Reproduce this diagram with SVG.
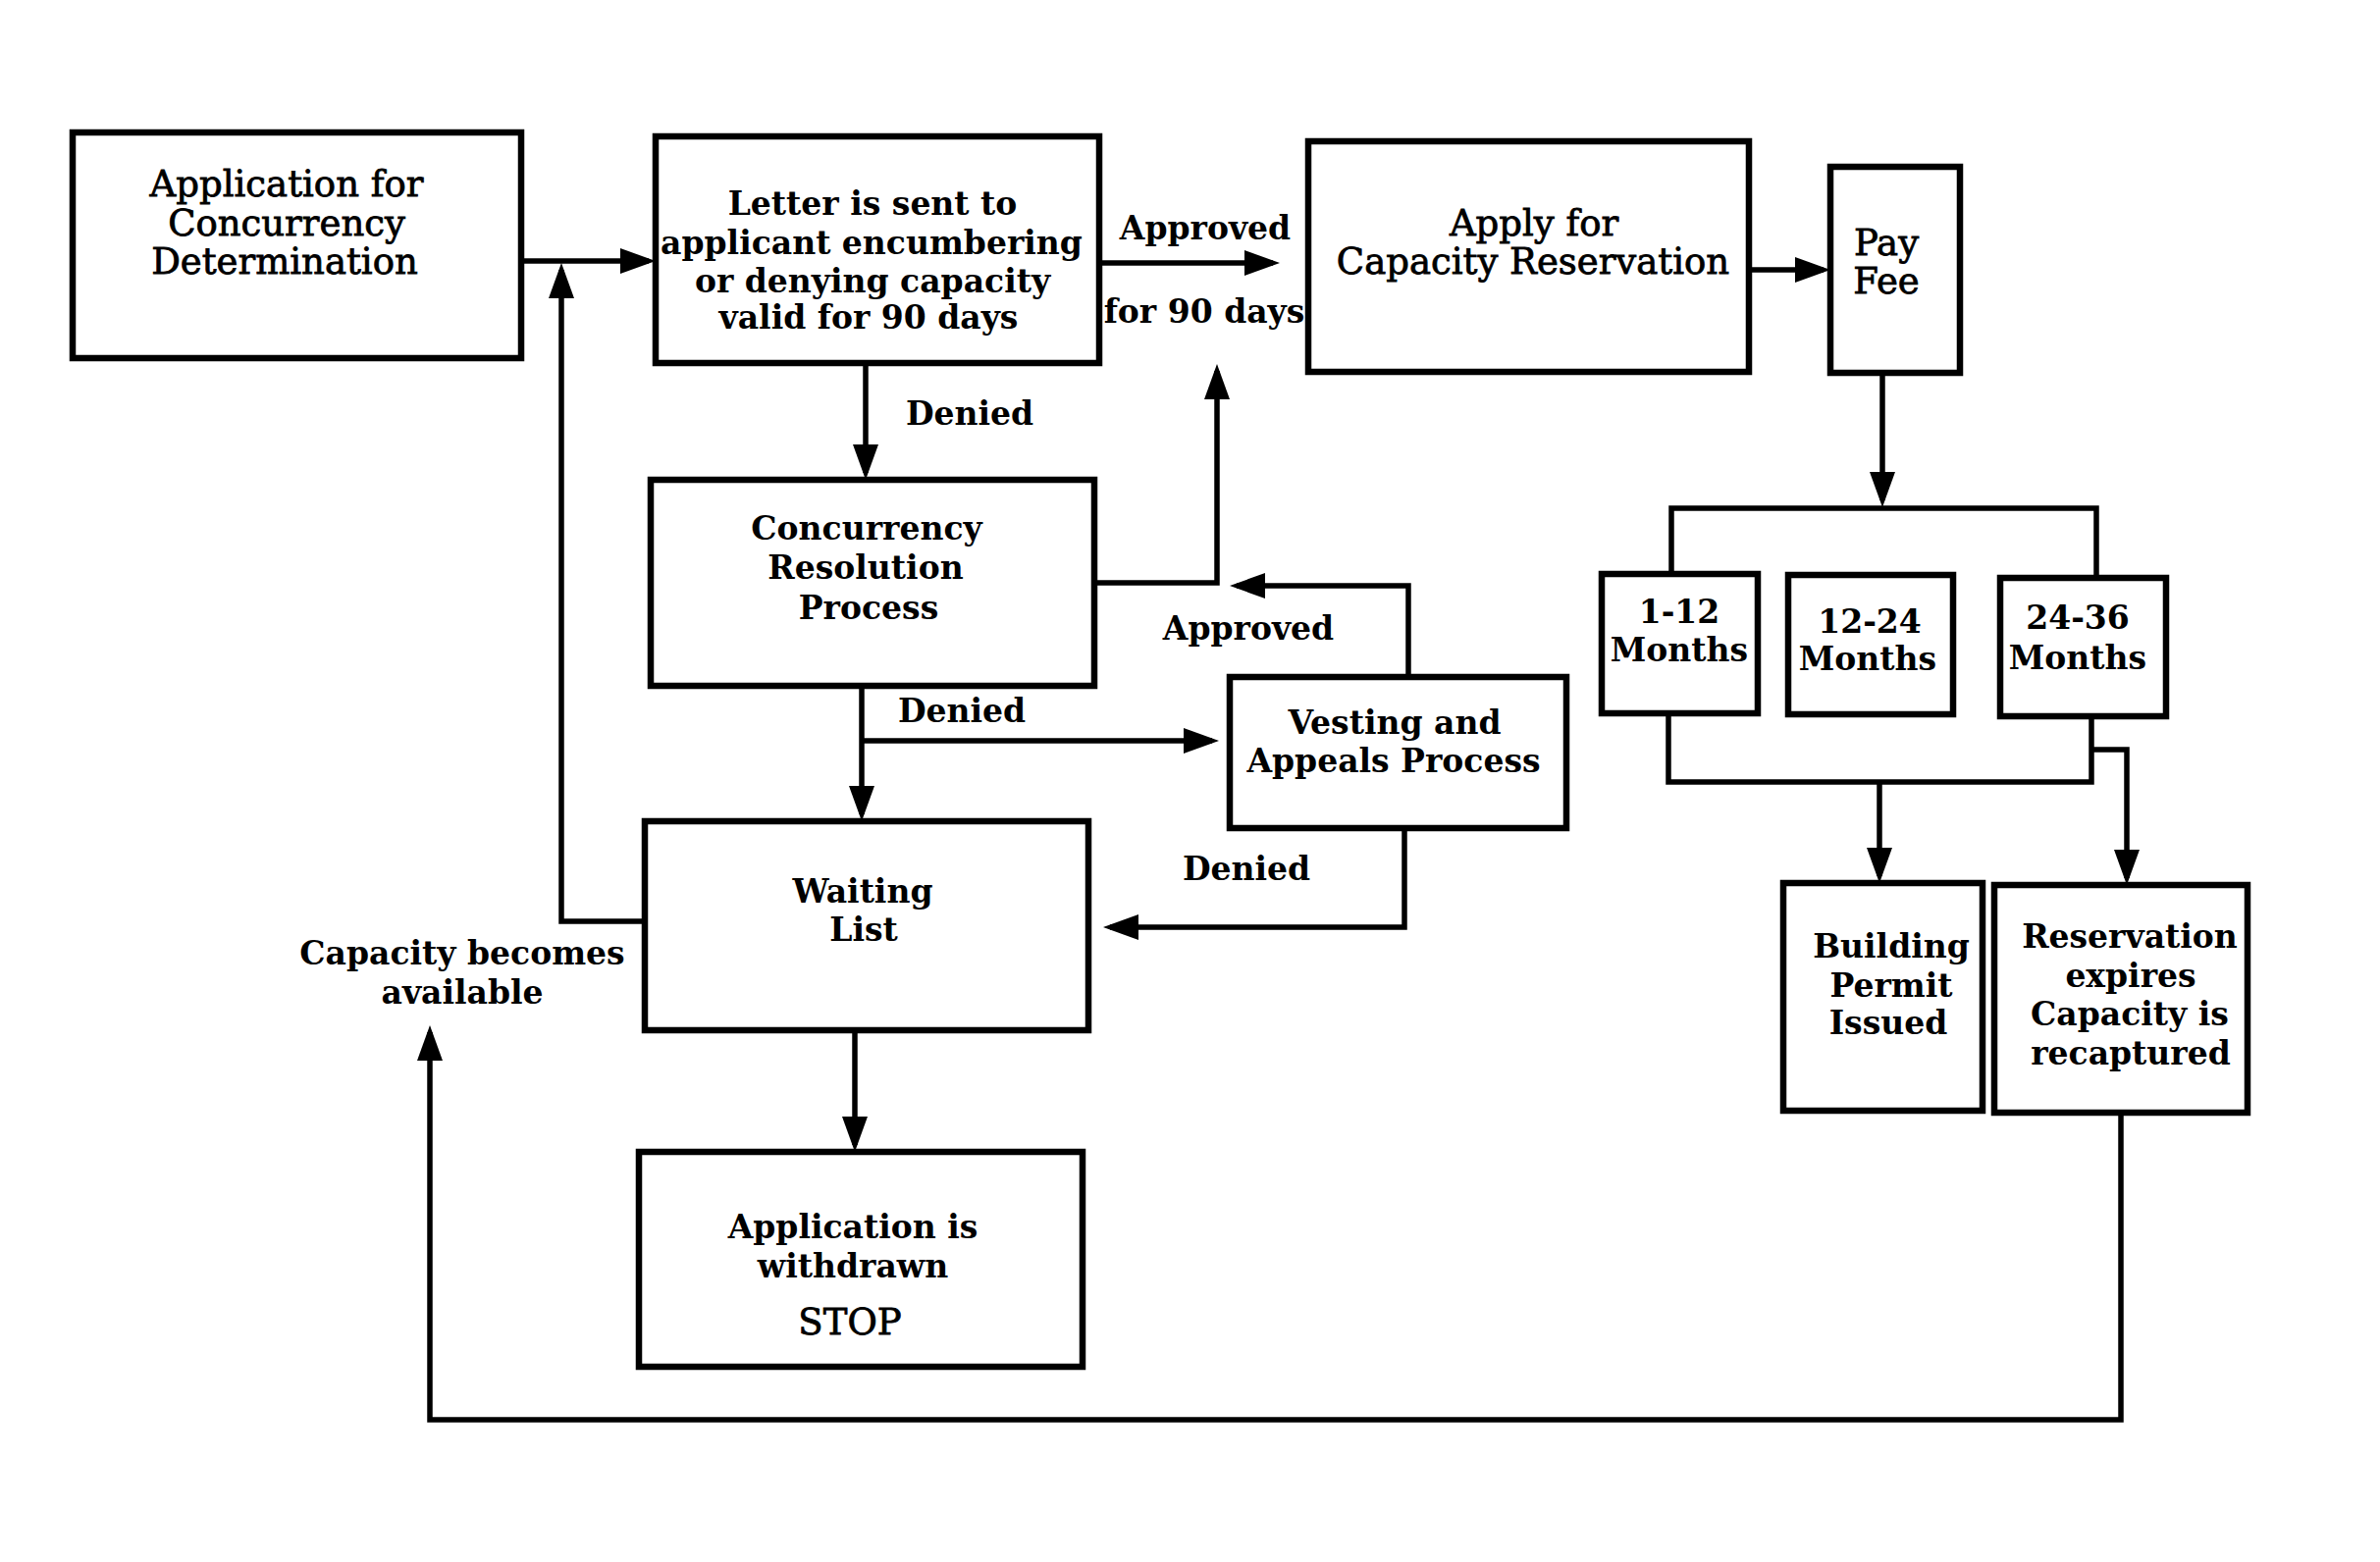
<svg xmlns="http://www.w3.org/2000/svg" width="2425" height="1592" viewBox="0 0 2425 1592">
<defs>
<style>
.box{fill:#fff;stroke:#000;stroke-width:6.5}
.ln{fill:none;stroke:#000;stroke-width:5.5}
.ar{marker-end:url(#ah)}
text{font-family:"DejaVu Serif","Liberation Serif",serif;text-anchor:middle;dominant-baseline:central;fill:#000}
.r{font-size:37px;font-weight:normal;stroke:#000;stroke-width:0.8}
.b{font-size:33px;font-weight:bold}
</style>
<marker id="ah" markerUnits="userSpaceOnUse" markerWidth="36" markerHeight="26" refX="29" refY="13" orient="auto">
<path d="M0,0 L36,13 L0,26 z" fill="#000"/>
</marker>
</defs>
<rect width="2425" height="1592" fill="#fff"/>
<g id="connectors">
<path class="ln ar" d="M531,266 H661"/>
<path class="ln ar" d="M657,939 H572 V275"/>
<path class="ln ar" d="M882,370 V482"/>
<path class="ln ar" d="M1120,268 H1297"/>
<path class="ln ar" d="M1115,594 H1240 V378"/>
<path class="ln ar" d="M1435,690 V597 H1260"/>
<path class="ln ar" d="M878,699 V830"/>
<path class="ln ar" d="M878,755 H1235"/>
<path class="ln ar" d="M1431,844 V945 H1131"/>
<path class="ln ar" d="M871,1050 V1167"/>
<path class="ln ar" d="M2161,1134 V1447 H438 V1052"/>
<path class="ln ar" d="M1782,275 H1858"/>
<path class="ln ar" d="M1918,380 V510"/>
<path class="ln" d="M1703,585 V518 H2136 V589"/>
<path class="ln" d="M1700,727 V797 H2131 V730"/>
<path class="ln ar" d="M1915,797 V893"/>
<path class="ln ar" d="M2131,764 H2167 V895"/>
<text class="b" x="1228" y="232">Approved</text>
<text class="b" x="1227" y="317">for 90 days</text>
<text class="b" x="988" y="421">Denied</text>
<text class="b" x="1272" y="640">Approved</text>
<text class="b" x="980" y="724">Denied</text>
<text class="b" x="1270" y="885">Denied</text>
<text class="b" x="471" y="971">Capacity becomes</text>
<text class="b" x="471" y="1011">available</text>
</g>
<g id="n-application">
<rect class="box" x="74" y="135" width="457" height="230"/>
<text class="r" x="292" y="187">Application for</text>
<text class="r" x="292" y="227">Concurrency</text>
<text class="r" x="290" y="266">Determination</text>
</g>
<g id="n-letter">
<rect class="box" x="668" y="139" width="452" height="231"/>
<text class="b" x="889" y="207">Letter is sent to</text>
<text class="b" x="888" y="247">applicant encumbering</text>
<text class="b" x="889" y="286">or denying capacity</text>
<text class="b" x="885" y="323">valid for 90 days</text>
</g>
<g id="n-apply">
<rect class="box" x="1333" y="144" width="449" height="235"/>
<text class="r" x="1563" y="227">Apply for</text>
<text class="r" x="1562" y="266">Capacity Reservation</text>
</g>
<g id="n-payfee">
<rect class="box" x="1865" y="170" width="132" height="210"/>
<text class="r" x="1922" y="247">Pay</text>
<text class="r" x="1922" y="286">Fee</text>
</g>
<g id="n-resolution">
<rect class="box" x="663" y="489" width="452" height="210"/>
<text class="b" x="883" y="538">Concurrency</text>
<text class="b" x="882" y="578">Resolution</text>
<text class="b" x="885" y="619">Process</text>
</g>
<g id="n-vesting">
<rect class="box" x="1253" y="690" width="343" height="154"/>
<text class="b" x="1421" y="736">Vesting and</text>
<text class="b" x="1420" y="775">Appeals Process</text>
</g>
<g id="n-waiting">
<rect class="box" x="657" y="837" width="452" height="213"/>
<text class="b" x="879" y="908">Waiting</text>
<text class="b" x="880" y="947">List</text>
</g>
<g id="n-withdrawn">
<rect class="box" x="651" y="1174" width="452" height="219"/>
<text class="b" x="869" y="1250">Application is</text>
<text class="b" x="869" y="1290">withdrawn</text>
<text class="r" x="866" y="1347">STOP</text>
</g>
<g id="n-m1">
<rect class="box" x="1632" y="585" width="159" height="142"/>
<text class="b" x="1711" y="623">1-12</text>
<text class="b" x="1711" y="662">Months</text>
</g>
<g id="n-m2">
<rect class="box" x="1822" y="586" width="168" height="142"/>
<text class="b" x="1905" y="633">12-24</text>
<text class="b" x="1903" y="671">Months</text>
</g>
<g id="n-m3">
<rect class="box" x="2038" y="589" width="169" height="141"/>
<text class="b" x="2117" y="629">24-36</text>
<text class="b" x="2117" y="670">Months</text>
</g>
<g id="n-permit">
<rect class="box" x="1817" y="900" width="203" height="232"/>
<text class="b" x="1927" y="964">Building</text>
<text class="b" x="1927" y="1004">Permit</text>
<text class="b" x="1924" y="1042">Issued</text>
</g>
<g id="n-expires">
<rect class="box" x="2032" y="902" width="258" height="232"/>
<text class="b" x="2170" y="954">Reservation</text>
<text class="b" x="2171" y="994">expires</text>
<text class="b" x="2170" y="1033">Capacity is</text>
<text class="b" x="2171" y="1073">recaptured</text>
</g>
</svg>
